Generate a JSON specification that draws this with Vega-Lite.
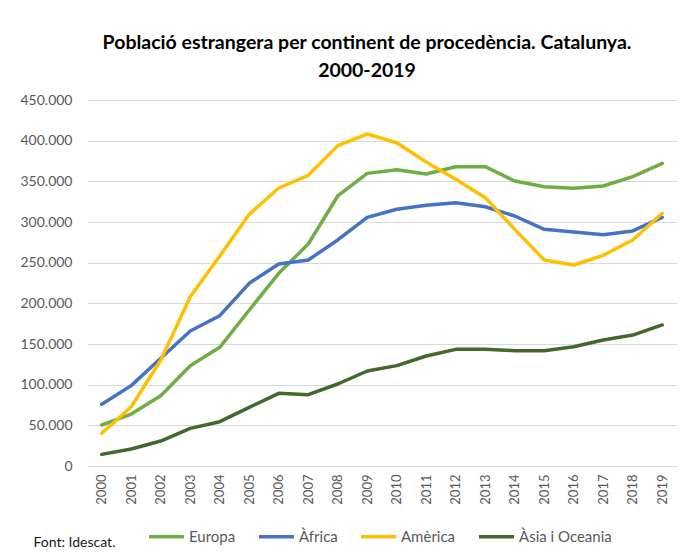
{
  "$schema": "https://vega.github.io/schema/vega-lite/v6.json",
  "autosize": {"type": "none"},
  "width": 590,
  "height": 366,
  "padding": {"left": 87, "top": 100, "right": 9, "bottom": 86},
  "background": "white",
  "config": {
    "locale": {"number": {"decimal": ",", "thousands": ".", "grouping": [3], "currency": ["", " €"]}},
    "view": {"stroke": null},
    "font": "Lato"
  },
  "title": {
    "text": ["Població estrangera per continent de procedència. Catalunya.", "2000-2019"],
    "font": "Lato",
    "fontSize": 19.5,
    "fontWeight": "bold",
    "color": "#000000",
    "lineHeight": 28,
    "anchor": "middle",
    "dx": -15,
    "offset": 12
  },
  "data": {
    "values": [
      {"year": "2000", "continent": "Europa", "value": 50400},
      {"year": "2001", "continent": "Europa", "value": 63900},
      {"year": "2002", "continent": "Europa", "value": 86400},
      {"year": "2003", "continent": "Europa", "value": 123300},
      {"year": "2004", "continent": "Europa", "value": 145900},
      {"year": "2005", "continent": "Europa", "value": 191800},
      {"year": "2006", "continent": "Europa", "value": 236900},
      {"year": "2007", "continent": "Europa", "value": 273000},
      {"year": "2008", "continent": "Europa", "value": 332000},
      {"year": "2009", "continent": "Europa", "value": 359800},
      {"year": "2010", "continent": "Europa", "value": 364300},
      {"year": "2011", "continent": "Europa", "value": 359000},
      {"year": "2012", "continent": "Europa", "value": 368000},
      {"year": "2013", "continent": "Europa", "value": 368000},
      {"year": "2014", "continent": "Europa", "value": 350400},
      {"year": "2015", "continent": "Europa", "value": 343400},
      {"year": "2016", "continent": "Europa", "value": 341400},
      {"year": "2017", "continent": "Europa", "value": 344300},
      {"year": "2018", "continent": "Europa", "value": 355700},
      {"year": "2019", "continent": "Europa", "value": 372000},
      {"year": "2000", "continent": "Àfrica", "value": 75800},
      {"year": "2001", "continent": "Àfrica", "value": 98800},
      {"year": "2002", "continent": "Àfrica", "value": 132400},
      {"year": "2003", "continent": "Àfrica", "value": 166000},
      {"year": "2004", "continent": "Àfrica", "value": 184800},
      {"year": "2005", "continent": "Àfrica", "value": 224600},
      {"year": "2006", "continent": "Àfrica", "value": 248400},
      {"year": "2007", "continent": "Àfrica", "value": 253300},
      {"year": "2008", "continent": "Àfrica", "value": 277900},
      {"year": "2009", "continent": "Àfrica", "value": 305700},
      {"year": "2010", "continent": "Àfrica", "value": 315600},
      {"year": "2011", "continent": "Àfrica", "value": 320500},
      {"year": "2012", "continent": "Àfrica", "value": 323800},
      {"year": "2013", "continent": "Àfrica", "value": 318800},
      {"year": "2014", "continent": "Àfrica", "value": 307400},
      {"year": "2015", "continent": "Àfrica", "value": 291000},
      {"year": "2016", "continent": "Àfrica", "value": 287700},
      {"year": "2017", "continent": "Àfrica", "value": 284400},
      {"year": "2018", "continent": "Àfrica", "value": 289000},
      {"year": "2019", "continent": "Àfrica", "value": 305700},
      {"year": "2000", "continent": "Amèrica", "value": 40200},
      {"year": "2001", "continent": "Amèrica", "value": 72900},
      {"year": "2002", "continent": "Amèrica", "value": 130000},
      {"year": "2003", "continent": "Amèrica", "value": 208200},
      {"year": "2004", "continent": "Amèrica", "value": 258200},
      {"year": "2005", "continent": "Amèrica", "value": 309400},
      {"year": "2006", "continent": "Amèrica", "value": 341800},
      {"year": "2007", "continent": "Amèrica", "value": 357400},
      {"year": "2008", "continent": "Amèrica", "value": 393900},
      {"year": "2009", "continent": "Amèrica", "value": 408200},
      {"year": "2010", "continent": "Amèrica", "value": 397500},
      {"year": "2011", "continent": "Amèrica", "value": 373800},
      {"year": "2012", "continent": "Amèrica", "value": 352500},
      {"year": "2013", "continent": "Amèrica", "value": 329900},
      {"year": "2014", "continent": "Amèrica", "value": 291000},
      {"year": "2015", "continent": "Amèrica", "value": 253300},
      {"year": "2016", "continent": "Amèrica", "value": 247100},
      {"year": "2017", "continent": "Amèrica", "value": 259000},
      {"year": "2018", "continent": "Amèrica", "value": 277900},
      {"year": "2019", "continent": "Amèrica", "value": 310700},
      {"year": "2000", "continent": "Àsia i Oceania", "value": 14300},
      {"year": "2001", "continent": "Àsia i Oceania", "value": 20900},
      {"year": "2002", "continent": "Àsia i Oceania", "value": 30700},
      {"year": "2003", "continent": "Àsia i Oceania", "value": 46300},
      {"year": "2004", "continent": "Àsia i Oceania", "value": 54500},
      {"year": "2005", "continent": "Àsia i Oceania", "value": 72100},
      {"year": "2006", "continent": "Àsia i Oceania", "value": 89300},
      {"year": "2007", "continent": "Àsia i Oceania", "value": 87700},
      {"year": "2008", "continent": "Àsia i Oceania", "value": 100800},
      {"year": "2009", "continent": "Àsia i Oceania", "value": 116800},
      {"year": "2010", "continent": "Àsia i Oceania", "value": 123400},
      {"year": "2011", "continent": "Àsia i Oceania", "value": 135200},
      {"year": "2012", "continent": "Àsia i Oceania", "value": 143400},
      {"year": "2013", "continent": "Àsia i Oceania", "value": 143400},
      {"year": "2014", "continent": "Àsia i Oceania", "value": 141800},
      {"year": "2015", "continent": "Àsia i Oceania", "value": 141800},
      {"year": "2016", "continent": "Àsia i Oceania", "value": 146700},
      {"year": "2017", "continent": "Àsia i Oceania", "value": 154900},
      {"year": "2018", "continent": "Àsia i Oceania", "value": 161000},
      {"year": "2019", "continent": "Àsia i Oceania", "value": 173400}
    ]
  },
  "mark": {"type": "line", "strokeWidth": 3.5, "strokeCap": "round", "strokeJoin": "round"},
  "encoding": {
    "x": {
      "field": "year",
      "type": "ordinal",
      "scale": {"type": "point", "padding": 0.5},
      "axis": {
        "title": "Font: Idescat.",
        "titleFont": "Lato",
        "titleFontSize": 14,
        "titleFontWeight": "normal",
        "titleColor": "#1a1a1a",
        "titleAnchor": "start",
        "titleAlign": "left",
        "titleBaseline": "alphabetic",
        "titleX": -54,
        "titleY": 80,
        "labelAngle": -90,
        "labelFontSize": 13,
        "labelColor": "#595959",
        "labelPadding": 8,
        "domain": false,
        "ticks": false,
        "grid": false
      }
    },
    "y": {
      "field": "value",
      "type": "quantitative",
      "scale": {"domain": [0, 450000], "nice": false},
      "axis": {
        "title": null,
        "values": [0, 50000, 100000, 150000, 200000, 250000, 300000, 350000, 400000, 450000],
        "format": ",d",
        "labelFontSize": 14,
        "labelColor": "#595959",
        "labelPadding": 15,
        "domain": false,
        "ticks": false,
        "grid": true,
        "gridColor": "#D9D9D9",
        "gridWidth": 1
      }
    },
    "color": {
      "field": "continent",
      "type": "nominal",
      "sort": ["Europa", "Àfrica", "Amèrica", "Àsia i Oceania"],
      "scale": {
        "domain": ["Europa", "Àfrica", "Amèrica", "Àsia i Oceania"],
        "range": ["#70AD47", "#4472C4", "#FFC000", "#43682B"]
      },
      "legend": {
        "title": null,
        "orient": "none",
        "direction": "horizontal",
        "legendX": 60,
        "legendY": 417,
        "symbolType": "stroke",
        "symbolSize": 1225,
        "symbolStrokeWidth": 3.5,
        "labelFontSize": 15,
        "labelColor": "#595959",
        "labelOffset": 3,
        "columnPadding": 16
      }
    }
  }
}
